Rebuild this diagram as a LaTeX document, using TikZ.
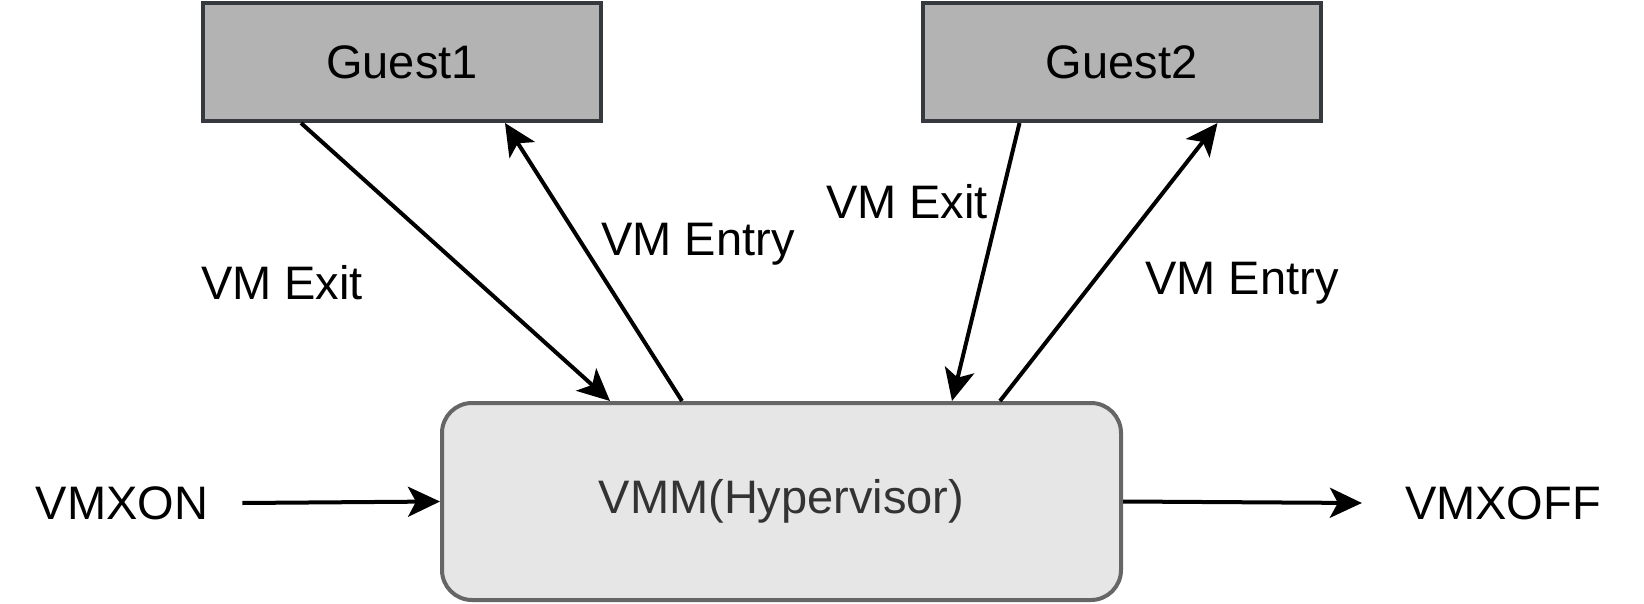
\documentclass[tikz,border=0pt]{standalone}
\usepackage{fontspec}
\setmainfont{Liberation Sans}
\usetikzlibrary{arrows.meta}

\definecolor{guestfill}{HTML}{B3B3B3}
\definecolor{guestline}{HTML}{36393D}
\definecolor{vmmfill}{HTML}{E6E6E6}
\definecolor{vmmline}{HTML}{666666}
\definecolor{vmmtext}{HTML}{333333}

\begin{document}
\begin{tikzpicture}[x=1pt, y=-1pt, >={Stealth[length=32pt, width=30pt, inset=8pt]},
    font=\fontsize{47}{56}\selectfont]
    % Define block styles
    \tikzset{guest/.style={rectangle, draw=guestline, fill=guestfill, line width=4pt, minimum width=398pt, minimum height=118pt}}
    \tikzset{vmm/.style={rectangle, draw=vmmline, fill=vmmfill, text=vmmtext, line width=4pt, rounded corners=30pt, minimum width=679pt, minimum height=197pt}}
    \tikzset{label/.style={inner sep=0pt}}
    \tikzset{line/.style={draw, line width=4pt}}

    \useasboundingbox (0,0) rectangle (1644,604);

    % Nodes
    \node [guest] (guest1) at (402,62) {Guest1};
    \node [guest] (guest2) at (1121.5,62) {Guest2};
    \node [vmm] (vmm) at (781.5,501.5) {VMM(Hypervisor)};
    \node [label] (vmxon) at (122,503) {VMXON};
    \node [label] (vmxoff) at (1503,503) {VMXOFF};

    % Labels
    \node [label] (exit1) at (282,283) {VM Exit};
    \node [label] (entry1) at (698,244) {VM Entry};
    \node [label] (exit2) at (907,202) {VM Exit};
    \node [label] (entry2) at (1242,283) {VM Entry};

    % Connecting lines
    \path [line, ->] ([xshift=100pt]guest1.south west) -- ([xshift=170pt]vmm.north west);
    \path [line, ->] ([xshift=242pt]vmm.north west) -- ([xshift=304pt]guest1.south west);
    \path [line, ->] ([xshift=99pt]guest2.south west) -- ([xshift=512pt]vmm.north west);
    \path [line, ->] ([xshift=560pt]vmm.north west) -- ([xshift=297pt]guest2.south west);
    \path [line, ->] ([xshift=34pt]vmxon.east) -- (vmm.west);
    \path [line, ->] (vmm.east) -- ([xshift=-43pt]vmxoff.west);
\end{tikzpicture}
\end{document}
